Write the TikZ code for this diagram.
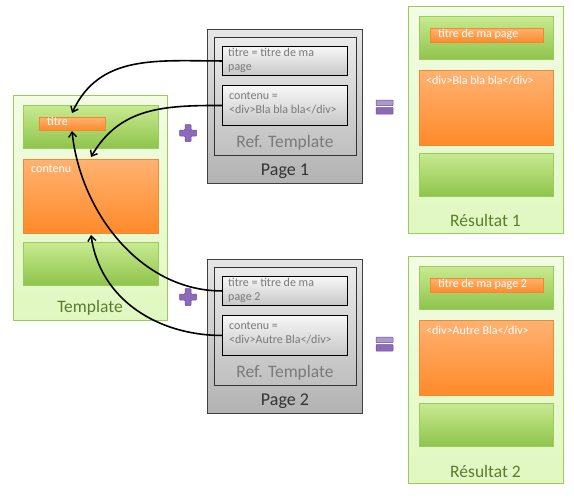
\documentclass[tikz,border=0pt]{standalone}
\usepackage{fontspec}
\setmainfont{Carlito}
\usetikzlibrary{arrows.meta,shadows}
\definecolor{gborder}{HTML}{9BCB5F}
\definecolor{gtop}{HTML}{C8EA90}
\definecolor{gbot}{HTML}{8FC44C}
\definecolor{otop}{HTML}{FFB272}
\definecolor{obot}{HTML}{FF8A2A}
\definecolor{oborder}{HTML}{F08A30}
\definecolor{lgtop}{HTML}{F3FCE4}
\definecolor{lgbot}{HTML}{E0F8C0}
\definecolor{gtext}{HTML}{5B7D2E}
\definecolor{purp}{HTML}{8B6BB8}
\definecolor{purpd}{HTML}{6A4E96}
\definecolor{graytxt}{HTML}{7A7A7A}
\tikzset{
  x=1pt,y=-1pt,
  outerbox/.style={draw=gborder,line width=0.8pt,top color=lgtop,bottom color=lgbot,anchor=north west,inner sep=0pt,
    drop shadow={opacity=0.25,shadow xshift=1pt,shadow yshift=-1pt}},
  greenbox/.style={draw=gborder,line width=0.6pt,top color=gtop,bottom color=gbot,anchor=north west,inner sep=0pt,
    drop shadow={opacity=0.3,shadow xshift=1pt,shadow yshift=-1pt}},
  orangebox/.style={draw=oborder,line width=0.6pt,top color=otop,bottom color=obot,anchor=north west,inner sep=0pt,
    drop shadow={opacity=0.3,shadow xshift=1pt,shadow yshift=-1pt}},
  pagebox/.style={draw=black!75,line width=0.8pt,top color=black!10,bottom color=black!30,anchor=north west,inner sep=0pt},
  refbox/.style={draw=black!80,line width=0.8pt,top color=black!8,bottom color=black!25,anchor=north west,inner sep=0pt},
  itembox/.style={draw=black,line width=0.9pt,top color=black!3,bottom color=black!22,anchor=north west,inner sep=0pt},
  wtext/.style={text=white,font=\fontsize{12}{14}\selectfont,anchor=north west,inner sep=0pt},
  gtextsmall/.style={text=graytxt,font=\fontsize{12}{14}\selectfont,anchor=north west,inner sep=0pt,align=left},
  biglabel/.style={font=\fontsize{17.5}{20}\selectfont,inner sep=0pt},
  pagelabel/.style={font=\fontsize{18}{20}\selectfont,inner sep=0pt,text=black!80},
  conn/.style={line width=1.6pt,-{Straight Barb[length=5pt,width=8pt,line width=1.4pt]}},
  purpshape/.style={fill=purp,draw=purpd,line width=0.5pt}
}
\begin{document}
\begin{tikzpicture}
\useasboundingbox (0,0) rectangle (574,499);

% ---------- Template ----------
\node[outerbox,minimum width=154,minimum height=225] (tpl) at (13,95) {};
\node[greenbox,minimum width=135,minimum height=43] (tpltop) at (23,105) {};
\node[orangebox,minimum width=66,minimum height=13] (tpltitre) at (39,117) {};
\node[wtext] (tpltitretxt) at (47,117) {titre};
\node[orangebox,minimum width=135,minimum height=74] (tplcont) at (23,159) {};
\node[wtext] (tplconttxt) at (31,165) {contenu};
\node[greenbox,minimum width=135,minimum height=43] (tplbot) at (23,242) {};
\node[biglabel,text=gtext] (tpllbl) at (90,308) {Template};

% ---------- Page 1 ----------
\node[pagebox,minimum width=155,minimum height=154] (p1) at (207,29) {};
\node[refbox,minimum width=142,minimum height=118] (p1ref) at (214,37) {};
\node[itembox,minimum width=125,minimum height=29] (p1titre) at (222,46) {};
\node[gtextsmall] (p1titretxt) at (228,48) {titre = titre de ma\\page};
\node[itembox,minimum width=125,minimum height=40] (p1cont) at (222,85) {};
\node[gtextsmall] (p1conttxt) at (229,92) {contenu =\\<div>Bla bla bla</div>};
\node[biglabel,text=graytxt] (p1reflbl) at (285,142.5) {Ref. Template};
\node[pagelabel] (p1lbl) at (285,171.5) {Page 1};

% ---------- Page 2 ----------
\node[pagebox,minimum width=155,minimum height=154] (p2) at (207,259) {};
\node[refbox,minimum width=142,minimum height=118] (p2ref) at (214,267) {};
\node[itembox,minimum width=125,minimum height=29] (p2titre) at (222,276) {};
\node[gtextsmall] (p2titretxt) at (228,278) {titre = titre de ma\\page 2};
\node[itembox,minimum width=125,minimum height=40] (p2cont) at (222,315) {};
\node[gtextsmall] (p2conttxt) at (229,322) {contenu =\\<div>Autre Bla</div>};
\node[biglabel,text=graytxt] (p2reflbl) at (285,372.5) {Ref. Template};
\node[pagelabel] (p2lbl) at (285,401.5) {Page 2};

% ---------- Resultat 1 ----------
\node[outerbox,minimum width=155,minimum height=227] (r1) at (408,6) {};
\node[greenbox,minimum width=134,minimum height=43] (r1top) at (419,16) {};
\node[orangebox,minimum width=113,minimum height=14] (r1titre) at (430,28) {};
\node[wtext] (r1titretxt) at (438,28.5) {titre de ma page};
\node[orangebox,minimum width=134,minimum height=75] (r1cont) at (419,70) {};
\node[wtext] (r1conttxt) at (426,76) {<div>Bla bla bla</div>};
\node[greenbox,minimum width=134,minimum height=43] (r1bot) at (419,153) {};
\node[biglabel,text=gtext] (r1lbl) at (485.5,220) {Résultat 1};

% ---------- Resultat 2 ----------
\node[outerbox,minimum width=155,minimum height=227] (r2) at (408,256) {};
\node[greenbox,minimum width=134,minimum height=43] (r2top) at (419,266) {};
\node[orangebox,minimum width=113,minimum height=14] (r2titre) at (430,278) {};
\node[wtext] (r2titretxt) at (438,278.5) {titre de ma page 2};
\node[orangebox,minimum width=134,minimum height=75] (r2cont) at (419,320) {};
\node[wtext] (r2conttxt) at (426,326) {<div>Autre Bla</div>};
\node[greenbox,minimum width=134,minimum height=43] (r2bot) at (419,403) {};
\node[biglabel,text=gtext] (r2lbl) at (485.5,471) {Résultat 2};

% ---------- plus signs ----------
\foreach \cx/\cy in {188/133, 188/297}{
  \fill[purpshape,rounded corners=0.8pt]
    (\cx-3,\cy-8.5) -- (\cx+3,\cy-8.5) -- (\cx+3,\cy-3) -- (\cx+8.5,\cy-3) -- (\cx+8.5,\cy+3)
    -- (\cx+3,\cy+3) -- (\cx+3,\cy+8.5) -- (\cx-3,\cy+8.5) -- (\cx-3,\cy+3) -- (\cx-8.5,\cy+3)
    -- (\cx-8.5,\cy-3) -- (\cx-3,\cy-3) -- cycle;
}
% ---------- equal signs ----------
\foreach \cy in {100, 337}{
  \filldraw[purpshape,fill=purp!70,rounded corners=0.6pt] (376,\cy) rectangle (393,\cy+5.5);
  \filldraw[purpshape,rounded corners=0.6pt] (376,\cy+7.5) rectangle (393,\cy+14);
}

% ---------- connectors ----------
\coordinate (a1) at (72,113);
\coordinate (a2) at (91,157);
\coordinate (a3) at (72,131);
\coordinate (a4) at (91,235);
\draw[conn] (p1titre.west) to[out=180,in=65,looseness=1.05] (a1);
\draw[conn] (p1cont.west) to[out=180,in=60,looseness=1.05] (a2);
\draw[conn] (p2titre.west) to[out=180,in=-84,looseness=0.95] (a3);
\draw[conn] (p2cont.west) to[out=180,in=-82,looseness=1.0] (a4);
\end{tikzpicture}
\end{document}
